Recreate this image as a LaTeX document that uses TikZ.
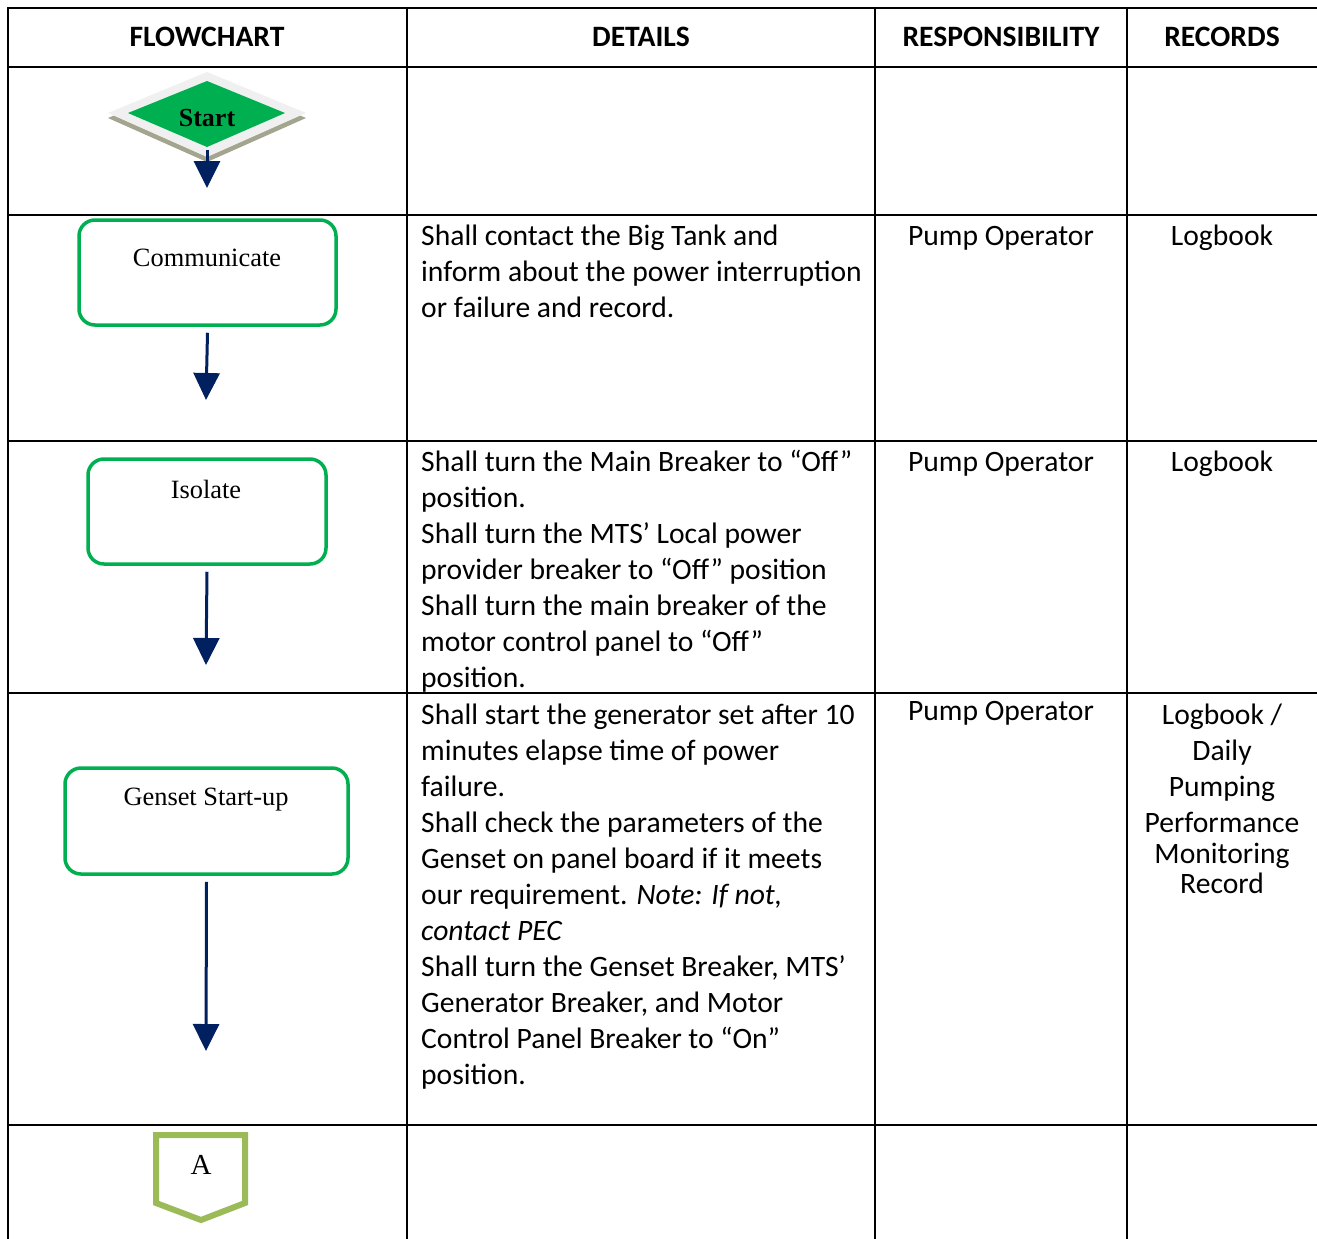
\documentclass[tikz,border=0pt]{standalone}
\usepackage{fontspec}
\setmainfont{Carlito}
\newfontfamily\tnr{Liberation Serif}
\usetikzlibrary{arrows.meta}
\definecolor{boxgreen}{HTML}{00B050}
\definecolor{arrowblue}{HTML}{002060}
\definecolor{connolive}{HTML}{9BBB59}
\definecolor{shadowgray}{HTML}{A3A58E}
\definecolor{diamondgray}{HTML}{F0F0F0}
\begin{document}
\begin{tikzpicture}[x=1pt,y=-1pt,
  grid/.style={line width=2.2pt,black},
  body/.style={font=\fontsize{29.6}{36}\selectfont, inner sep=0pt},
  details/.style={body, anchor=north west, align=left},
  centercell/.style={body, anchor=north, align=center},
  oneline/.style={body, anchor=base},
  head/.style={font=\fontsize{29.6}{34}\selectfont\bfseries, inner sep=0pt},
  stepbox/.style={draw=boxgreen, line width=3.5pt, rounded corners=16pt, fill=white, inner sep=0pt},
  flowlabel/.style={font=\tnr\fontsize{26.4}{30}\selectfont, inner sep=0pt},
  flowarrow/.style={draw=arrowblue, line width=3pt, -{Triangle[length=27pt,width=26pt]}},
]
\useasboundingbox (0,0) rectangle (1317,1239);
\fill[white] (0,0) rectangle (1317,1239);

% table grid
\draw[grid] (8,8) -- (1317,8);
\draw[grid] (8,67) -- (1317,67);
\draw[grid] (8,215) -- (1317,215);
\draw[grid] (8,441) -- (1317,441);
\draw[grid] (8,693) -- (1317,693);
\draw[grid] (8,1125) -- (1317,1125);
\draw[grid] (8,7) -- (8,1239);
\draw[grid] (407,7) -- (407,1239);
\draw[grid] (875,7) -- (875,1239);
\draw[grid] (1127,7) -- (1127,1239);

% header
\node[head] (h1) at (207,37) {FLOWCHART};
\node[head] (h2) at (641,37) {DETAILS};
\node[head] (h3) at (1001,37) {RESPONSIBILITY};
\node[head] (h4) at (1222,37) {RECORDS};

% start diamond
\fill[shadowgray] (108,118) -- (207,77) -- (306,118) -- (207,162) -- cycle;
\fill[diamondgray] (108,113) -- (207,72) -- (306,113) -- (207,157) -- cycle;
\fill[boxgreen] (128,113) -- (207,81) -- (285,113) -- (207,147) -- cycle;
\node[font=\tnr\bfseries\fontsize{26}{28}\selectfont, inner sep=0pt] (start) at (207,118) {Start};
\coordinate (startout) at (207,150);
\coordinate (startend) at (207,188);
\draw[flowarrow] (startout) -- (startend);

% Communicate
\node[stepbox, minimum width=257pt, minimum height=105pt] (comm) at (207.5,272.5) {};
\node[flowlabel] (commlbl) at (207,258) {Communicate};
\coordinate (commend) at (206,400);
\draw[flowarrow] ([yshift=-6pt]comm.south) -- (commend);

% Isolate
\node[stepbox, minimum width=238pt, minimum height=105pt] (iso) at (207,511.5) {};
\node[flowlabel] (isolbl) at (206,489) {Isolate};
\coordinate (isoend) at (206,665);
\draw[flowarrow] ([yshift=-6pt]iso.south) -- (isoend);

% Genset
\node[stepbox, minimum width=283pt, minimum height=106pt] (gen) at (206.5,821) {};
\node[flowlabel] (genlbl) at (206,800) {Genset Start-up};
\coordinate (genend) at (206,1051);
\draw[flowarrow] ([yshift=-6pt]gen.south) -- (genend);

% off-page connector A
\draw[draw=connolive, line width=6pt, fill=white, line join=miter]
  (156,1135) -- (245,1135) -- (245,1203) -- (201,1220) -- (156,1203) -- cycle;
\node[font=\tnr\fontsize{29}{32}\selectfont, inner sep=0pt] (conA) at (201,1165) {A};

% details
\node[details] (d1) at (421,220) {\strut Shall contact the Big Tank and\\
inform about the power interruption\\
or failure and record.};
\node[details] (d2) at (421,446) {\strut Shall turn the Main Breaker to “Off”\\
position.\\
Shall turn the MTS’ Local power\\
provider breaker to “Off” position\\
Shall turn the main breaker of the\\
motor control panel to “Off”\\
position.};
\node[details] (d3) at (421,699) {\strut Shall start the generator set after 10\\
minutes elapse time of power\\
failure.\\
Shall check the parameters of the\\
Genset on panel board if it meets\\
our requirement. \textit{Note: If not,}\\
\textit{contact PEC}\\
Shall turn the Genset Breaker, MTS’\\
Generator Breaker, and Motor\\
Control Panel Breaker to “On”\\
position.};

% responsibility
\node[oneline] (r1) at (1001,245) {Pump Operator};
\node[oneline] (r2) at (1001,471) {Pump Operator};
\node[oneline] (r3) at (1001,720) {Pump Operator};

% records
\node[oneline] (c1) at (1222,245) {Logbook};
\node[oneline] (c2) at (1222,471) {Logbook};
\node[centercell] (c3) at (1222,699) {\strut Logbook /\\
Daily\\
Pumping\\
Performance\\[-5pt]
Monitoring\\[-6pt]
Record};
\end{tikzpicture}
\end{document}
